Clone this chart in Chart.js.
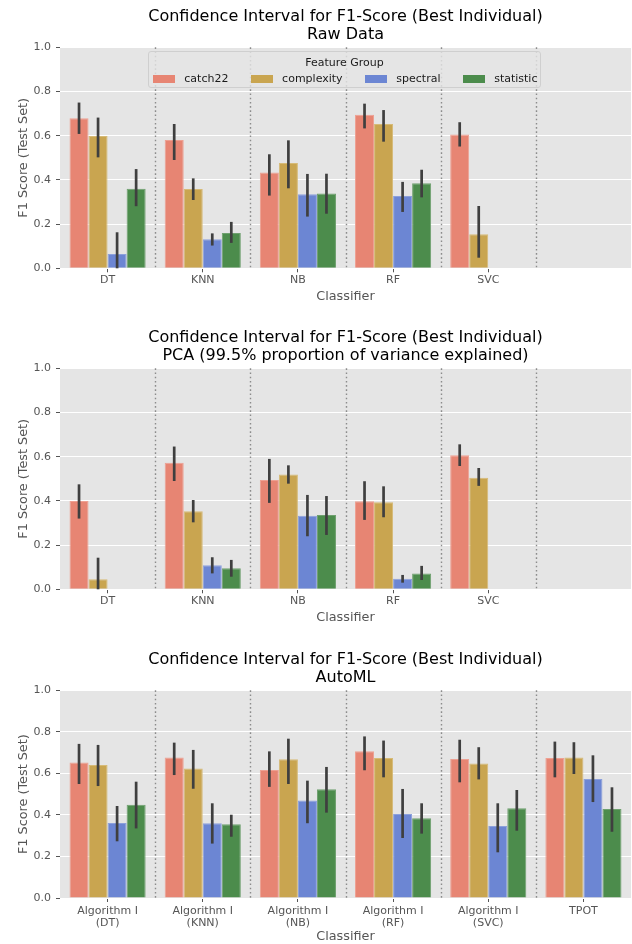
<!DOCTYPE html>
<html><head><meta charset="utf-8">
<script src="https://cdn.jsdelivr.net/npm/chart.js@4/dist/chart.umd.min.js"></script>
<style>
html,body{margin:0;padding:0;background:#fff;}
#wrap{position:relative;width:632px;height:944px;overflow:hidden;font-family:"DejaVu Sans",sans-serif;}
.panel{position:absolute;left:0;width:632px;}
.panel canvas{display:block;}
#legend{position:absolute;left:148px;top:51px;width:393px;height:37px;box-sizing:border-box;background:rgba(229,229,229,0.8);border:1px solid #cfcfcf;border-radius:3px;font-size:11px;color:#1a1a1a;}
#legend .ttl{position:absolute;left:0;right:0;top:4px;text-align:center;line-height:14px;}
#legend .items{position:absolute;left:4px;top:20px;display:flex;line-height:14px;white-space:nowrap;}
#legend .item{display:flex;align-items:center;margin-right:22.4px;}
#legend .sw{width:22px;height:8px;margin-right:9.3px;}
</style></head><body>
<div id="wrap">
  <div class="panel" style="top:0;height:310px"><canvas id="c1" width="632" height="310"></canvas></div>
  <div class="panel" style="top:321px;height:310px"><canvas id="c2" width="632" height="310"></canvas></div>
  <div class="panel" style="top:643px;height:301px"><canvas id="c3" width="632" height="301"></canvas></div>
  <div id="legend"><div class="ttl">Feature Group</div><div class="items" id="legItems"></div></div>
</div>
<script>
// ---------------- data ----------------
const seriesNames = ['catch22', 'complexity', 'spectral', 'statistic'];
const seriesColors = ['rgb(231,133,115)', 'rgb(201,165,80)', 'rgb(108,134,211)', 'rgb(76,140,76)'];
const seriesEdges = ['rgb(238,160,146)', 'rgb(214,186,118)', 'rgb(140,160,220)', 'rgb(110,160,110)'];

const rawClassifiers = ['DT', 'KNN', 'NB', 'RF', 'SVC', ''];
const pcaClassifiers = ['DT', 'KNN', 'NB', 'RF', 'SVC', ''];
const automlClassifiers = [['Algorithm I', '(DT)'], ['Algorithm I', '(KNN)'], ['Algorithm I', '(NB)'], ['Algorithm I', '(RF)'], ['Algorithm I', '(SVC)'], 'TPOT'];
const yTicks = [0, 0.2, 0.4, 0.6, 0.8, 1.0];

// Raw data panel
const rawCatch22 = [0.679, 0.581, 0.434, 0.695, 0.605, null];
const rawCatch22Lo = [0.608, 0.490, 0.329, 0.633, 0.551, null];
const rawCatch22Hi = [0.750, 0.653, 0.516, 0.745, 0.661, null];
const rawComplexity = [0.599, 0.359, 0.477, 0.653, 0.154, null];
const rawComplexityLo = [0.502, 0.309, 0.362, 0.573, 0.048, null];
const rawComplexityHi = [0.682, 0.407, 0.579, 0.716, 0.282, null];
const rawSpectral = [0.065, 0.131, 0.335, 0.327, null, null];
const rawSpectralLo = [0.0, 0.103, 0.234, 0.255, null, null];
const rawSpectralHi = [0.163, 0.158, 0.427, 0.391, null, null];
const rawStatistic = [0.360, 0.160, 0.339, 0.385, null, null];
const rawStatisticLo = [0.281, 0.115, 0.247, 0.321, null, null];
const rawStatisticHi = [0.449, 0.210, 0.428, 0.446, null, null];

// PCA panel
const pcaCatch22 = [0.400, 0.573, 0.495, 0.398, 0.606, null];
const pcaCatch22Lo = [0.320, 0.490, 0.391, 0.314, 0.558, null];
const pcaCatch22Hi = [0.475, 0.646, 0.590, 0.489, 0.656, null];
const pcaComplexity = [0.045, 0.353, 0.520, 0.394, 0.505, null];
const pcaComplexityLo = [0.0, 0.303, 0.478, 0.326, 0.468, null];
const pcaComplexityHi = [0.143, 0.404, 0.561, 0.466, 0.549, null];
const pcaSpectral = [null, 0.109, 0.333, 0.048, null, null];
const pcaSpectralLo = [null, 0.072, 0.240, 0.030, null, null];
const pcaSpectralHi = [null, 0.145, 0.427, 0.065, null, null];
const pcaStatistic = [null, 0.095, 0.336, 0.072, null, null];
const pcaStatisticLo = [null, 0.057, 0.246, 0.042, null, null];
const pcaStatisticHi = [null, 0.133, 0.422, 0.106, null, null];

// AutoML panel
const automlCatch22 = [0.652, 0.677, 0.616, 0.706, 0.669, 0.674];
const automlCatch22Lo = [0.549, 0.592, 0.535, 0.615, 0.557, 0.581];
const automlCatch22Hi = [0.742, 0.748, 0.706, 0.778, 0.762, 0.753];
const automlComplexity = [0.640, 0.623, 0.668, 0.674, 0.648, 0.677];
const automlComplexityLo = [0.539, 0.526, 0.549, 0.581, 0.571, 0.597];
const automlComplexityHi = [0.737, 0.713, 0.767, 0.758, 0.726, 0.750];
const automlSpectral = [0.361, 0.360, 0.470, 0.404, 0.347, 0.573];
const automlSpectralLo = [0.273, 0.262, 0.360, 0.289, 0.220, 0.462];
const automlSpectralHi = [0.443, 0.456, 0.565, 0.525, 0.456, 0.687];
const automlStatistic = [0.449, 0.355, 0.523, 0.384, 0.432, 0.429];
const automlStatisticLo = [0.335, 0.295, 0.411, 0.310, 0.324, 0.319];
const automlStatisticHi = [0.560, 0.401, 0.631, 0.456, 0.520, 0.533];

// ---------------- chart setup ----------------
const FONT = '"DejaVu Sans", sans-serif';
Chart.defaults.font.family = FONT;

const bgPlugin = {
  id: 'axbg',
  beforeDraw(chart) {
    const a = chart.chartArea, c = chart.ctx;
    c.save(); c.fillStyle = '#E5E5E5'; c.fillRect(a.left, a.top, a.right - a.left, a.bottom - a.top); c.restore();
  }
};
const sepPlugin = {
  id: 'seps',
  beforeDatasetsDraw(chart) {
    const xs = chart.scales.x, a = chart.chartArea, c = chart.ctx;
    const n = chart.data.labels.length;
    c.save(); c.strokeStyle = '#8c8c8c'; c.lineWidth = 1.4; c.setLineDash([1.6, 2.6]);
    for (let i = 0; i < n - 1; i++) {
      const x = Math.round((xs.getPixelForValue(i) + xs.getPixelForValue(i + 1)) / 2) + 0.5;
      c.beginPath(); c.moveTo(x, a.top); c.lineTo(x, a.bottom); c.stroke();
    }
    c.restore();
  }
};
const errPlugin = {
  id: 'errbars',
  afterDatasetsDraw(chart) {
    const ys = chart.scales.y, c = chart.ctx;
    c.save(); c.strokeStyle = '#3f3f3f'; c.lineWidth = 2.7; c.lineCap = 'butt';
    chart.data.datasets.forEach((ds, di) => {
      const meta = chart.getDatasetMeta(di);
      ds.data.forEach((v, i) => {
        if (v === null || ds.errLo[i] === null) return;
        const el = meta.data[i];
        c.beginPath();
        c.moveTo(el.x, ys.getPixelForValue(ds.errLo[i]));
        c.lineTo(el.x, ys.getPixelForValue(ds.errHi[i]));
        c.stroke();
      });
    });
    c.restore();
  }
};

function makeDatasets(means, los, his) {
  return seriesNames.map((name, k) => ({
    label: name,
    data: means[k],
    errLo: los[k],
    errHi: his[k],
    backgroundColor: seriesColors[k],
    borderColor: seriesEdges[k],
    borderWidth: 1,
    categoryPercentage: 0.8,
    barPercentage: 1.0
  }));
}

function makeChart(id, labels, datasets, titleLines, cfg) {
  return new Chart(document.getElementById(id), {
    type: 'bar',
    data: { labels: labels, datasets: datasets },
    options: {
      responsive: false, animation: false, devicePixelRatio: 1,
      layout: { padding: { left: 0, right: 1, top: 0, bottom: 0 } },
      plugins: {
        legend: { display: false },
        tooltip: { enabled: false },
        title: {
          display: true, text: titleLines, color: '#000', fullSize: false,
          font: { size: 16, weight: 'normal', family: FONT, lineHeight: 1.1 },
          padding: { top: cfg.titleTop, bottom: cfg.titleBottom }
        }
      },
      scales: {
        x: {
          ticks: { color: '#555', font: { size: 11, lineHeight: 1.15 }, padding: cfg.tickPad, maxRotation: 0, autoSkip: false },
          grid: { display: true, drawOnChartArea: false, offset: false, tickLength: 4,
                  tickColor: (ctx) => (labels[ctx.index] === '' ? 'rgba(0,0,0,0)' : '#555') },
          border: { display: false },
          title: { display: true, text: 'Classifier', color: '#555', font: { size: 12.8, lineHeight: 1.2 }, padding: { top: 0, bottom: cfg.xTitleBottom } },
          afterFit(s) { s.height = cfg.xHeight; }
        },
        y: {
          min: 0, max: 1,
          afterBuildTicks(s) { s.ticks = yTicks.map(v => ({ value: v })); },
          ticks: { color: '#555', font: { size: 11 }, padding: 5, callback: (v) => Number(v).toFixed(1) },
          grid: { color: '#ffffff', lineWidth: 1, tickColor: '#555', tickLength: 4 },
          border: { display: false },
          title: { display: true, text: 'F1 Score (Test Set)', color: '#555', font: { size: 12.8, lineHeight: 1.2 }, padding: { top: 15.8, bottom: 0 } },
          afterFit(s) { s.width = 60; }
        }
      }
    },
    plugins: [bgPlugin, sepPlugin, errPlugin]
  });
}

makeChart('c1', rawClassifiers,
  makeDatasets([rawCatch22, rawComplexity, rawSpectral, rawStatistic],
               [rawCatch22Lo, rawComplexityLo, rawSpectralLo, rawStatisticLo],
               [rawCatch22Hi, rawComplexityHi, rawSpectralHi, rawStatisticHi]),
  ['Confidence Interval for F1-Score (Best Individual)', 'Raw Data'],
  { titleTop: 8.3, titleBottom: 3.8, tickPad: 2, xTitleBottom: 5.5, xHeight: 41.7 });

makeChart('c2', pcaClassifiers,
  makeDatasets([pcaCatch22, pcaComplexity, pcaSpectral, pcaStatistic],
               [pcaCatch22Lo, pcaComplexityLo, pcaSpectralLo, pcaStatisticLo],
               [pcaCatch22Hi, pcaComplexityHi, pcaSpectralHi, pcaStatisticHi]),
  ['Confidence Interval for F1-Score (Best Individual)', 'PCA (99.5% proportion of variance explained)'],
  { titleTop: 8.3, titleBottom: 3.8, tickPad: 2, xTitleBottom: 5.5, xHeight: 41.7 });

makeChart('c3', automlClassifiers,
  makeDatasets([automlCatch22, automlComplexity, automlSpectral, automlStatistic],
               [automlCatch22Lo, automlComplexityLo, automlSpectralLo, automlStatisticLo],
               [automlCatch22Hi, automlComplexityHi, automlSpectralHi, automlStatisticHi]),
  ['Confidence Interval for F1-Score (Best Individual)', 'AutoML'],
  { titleTop: 8.3, titleBottom: 3.8, tickPad: 2.5, xTitleBottom: 0, xHeight: 46 });

// HTML legend (first panel)
const legItems = document.getElementById('legItems');
seriesNames.forEach((name, k) => {
  const it = document.createElement('div'); it.className = 'item';
  const sw = document.createElement('span'); sw.className = 'sw'; sw.style.background = seriesColors[k];
  const tx = document.createElement('span'); tx.textContent = name;
  it.appendChild(sw); it.appendChild(tx); legItems.appendChild(it);
});
</script>
</body></html>
